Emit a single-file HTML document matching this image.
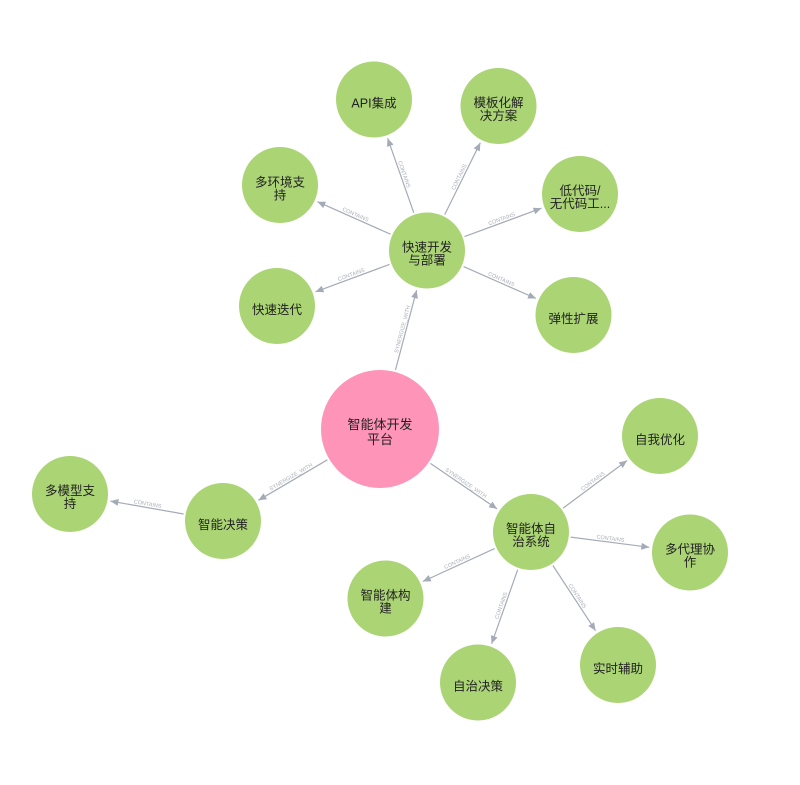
<!DOCTYPE html>
<html>
<head>
<meta charset="utf-8">
<style>
  html, body { margin:0; padding:0; background:#ffffff; }
  svg { display:block; }
  .n { fill:#abd475; }
  .p { fill:#ff94b9; }
  .t { font-family:"Liberation Sans","Noto Sans CJK SC",sans-serif; font-size:12.5px; fill:#222; text-anchor:middle; }
  .tp { font-family:"Liberation Sans","Noto Sans CJK SC",sans-serif; font-size:13px; fill:#222; text-anchor:middle; }
  .e { stroke:#a5abb6; stroke-width:1.2; fill:none; }
  .l { font-family:"Liberation Sans",sans-serif; font-size:5.5px; fill:#a9aeb8; text-anchor:middle; }
</style>
</head>
<body>
<svg width="800" height="785" viewBox="0 0 800 785" xmlns="http://www.w3.org/2000/svg">
  <defs>
    <marker id="a" markerWidth="8" markerHeight="7" refX="8" refY="3.5" orient="auto" markerUnits="userSpaceOnUse">
      <path d="M0,0 L8,3.5 L0,7 z" fill="#a5abb6"/>
    </marker>
  </defs>

  <!-- edges -->
  <line class="e" x1="395.5" y1="370.0" x2="416.6" y2="290.2" marker-end="url(#a)"/>
  <line class="e" x1="327.4" y1="459.8" x2="258.4" y2="500.3" marker-end="url(#a)"/>
  <line class="e" x1="430.4" y1="463.4" x2="497.1" y2="508.9" marker-end="url(#a)"/>
  <line class="e" x1="413.8" y1="212.8" x2="387.6" y2="138.2" marker-end="url(#a)"/>
  <line class="e" x1="444.7" y1="214.6" x2="480.3" y2="142.7" marker-end="url(#a)"/>
  <line class="e" x1="464.5" y1="236.6" x2="541.5" y2="208.2" marker-end="url(#a)"/>
  <line class="e" x1="390.5" y1="234.2" x2="317.4" y2="201.7" marker-end="url(#a)"/>
  <line class="e" x1="389.5" y1="264.4" x2="315.5" y2="291.8" marker-end="url(#a)"/>
  <line class="e" x1="463.6" y1="266.6" x2="536.0" y2="298.5" marker-end="url(#a)"/>
  <line class="e" x1="183.6" y1="514.0" x2="110.4" y2="501.1" marker-end="url(#a)"/>
  <line class="e" x1="563.1" y1="508.1" x2="627.1" y2="460.5" marker-end="url(#a)"/>
  <line class="e" x1="570.7" y1="537.1" x2="649.3" y2="547.3" marker-end="url(#a)"/>
  <line class="e" x1="494.6" y1="548.6" x2="422.8" y2="581.5" marker-end="url(#a)"/>
  <line class="e" x1="517.7" y1="569.7" x2="491.6" y2="643.8" marker-end="url(#a)"/>
  <line class="e" x1="552.9" y1="565.5" x2="595.6" y2="630.7" marker-end="url(#a)"/>

  <!-- edge labels -->
  <text class="l" transform="translate(406.0,330.1) rotate(-75.25)" y="-2">SYNERGIZE_WITH</text>
  <text class="l" transform="translate(292.9,480.1) rotate(-30.4)" y="-2">SYNERGIZE_WITH</text>
  <text class="l" transform="translate(463.8,486.1) rotate(34.3)" y="-2">SYNERGIZE_WITH</text>
  <text class="l" transform="translate(400.7,175.5) rotate(70.7)" y="-2">CONTAINS</text>
  <text class="l" transform="translate(462.5,178.7) rotate(-63.7)" y="-2">CONTAINS</text>
  <text class="l" transform="translate(503.0,222.4) rotate(-20.3)" y="-2">CONTAINS</text>
  <text class="l" transform="translate(354.0,218.0) rotate(24)" y="-2">CONTAINS</text>
  <text class="l" transform="translate(352.5,278.1) rotate(-20.3)" y="-2">CONTAINS</text>
  <text class="l" transform="translate(499.8,282.6) rotate(23.8)" y="-2">CONTAINS</text>
  <text class="l" transform="translate(147.0,507.6) rotate(10)" y="-2">CONTAINS</text>
  <text class="l" transform="translate(595.1,484.3) rotate(-36.7)" y="-2">CONTAINS</text>
  <text class="l" transform="translate(610.0,542.2) rotate(7.35)" y="-2">CONTAINS</text>
  <text class="l" transform="translate(458.7,565.1) rotate(-24.6)" y="-2">CONTAINS</text>
  <text class="l" transform="translate(504.7,606.8) rotate(-70.6)" y="-2">CONTAINS</text>
  <text class="l" transform="translate(574.3,598.1) rotate(56.8)" y="-2">CONTAINS</text>

  <!-- nodes -->
  <circle class="p" cx="380" cy="429" r="59"/>
  <text class="tp" x="380" y="429">智能体开发</text>
  <text class="tp" x="380" y="444">平台</text>

  <circle class="n" cx="427" cy="250.5" r="38"/>
  <text class="t" x="427" y="251.5">快速开发</text>
  <text class="t" x="427" y="264.5">与部署</text>

  <circle class="n" cx="374" cy="99.5" r="38"/>
  <text class="t" x="374" y="107.5">API集成</text>

  <circle class="n" cx="498.5" cy="106" r="38"/>
  <text class="t" x="498.5" y="107">模板化解</text>
  <text class="t" x="498.5" y="120">决方案</text>

  <circle class="n" cx="580" cy="194" r="38"/>
  <text class="t" x="580" y="195">低代码/</text>
  <text class="t" x="580" y="208">无代码工...</text>

  <circle class="n" cx="280" cy="185" r="38"/>
  <text class="t" x="280" y="186.5">多环境支</text>
  <text class="t" x="280" y="199.5">持</text>

  <circle class="n" cx="277" cy="306" r="38"/>
  <text class="t" x="277" y="314">快速迭代</text>

  <circle class="n" cx="573.5" cy="315" r="38"/>
  <text class="t" x="573.5" y="323">弹性扩展</text>

  <circle class="n" cx="223" cy="521" r="38"/>
  <text class="t" x="223" y="529">智能决策</text>

  <circle class="n" cx="70" cy="494" r="38"/>
  <text class="t" x="70" y="495">多模型支</text>
  <text class="t" x="70" y="508">持</text>

  <circle class="n" cx="531" cy="532" r="38"/>
  <text class="t" x="531" y="533">智能体自</text>
  <text class="t" x="531" y="546">治系统</text>

  <circle class="n" cx="660" cy="436" r="38"/>
  <text class="t" x="660" y="444">自我优化</text>

  <circle class="n" cx="690" cy="552.5" r="38"/>
  <text class="t" x="690" y="553.5">多代理协</text>
  <text class="t" x="690" y="566.5">作</text>

  <circle class="n" cx="385.5" cy="598.5" r="38"/>
  <text class="t" x="385.5" y="599.5">智能体构</text>
  <text class="t" x="385.5" y="612.5">建</text>

  <circle class="n" cx="478" cy="682.5" r="38"/>
  <text class="t" x="478" y="690.5">自治决策</text>

  <circle class="n" cx="618" cy="665" r="38"/>
  <text class="t" x="618" y="673">实时辅助</text>
</svg>
</body>
</html>
